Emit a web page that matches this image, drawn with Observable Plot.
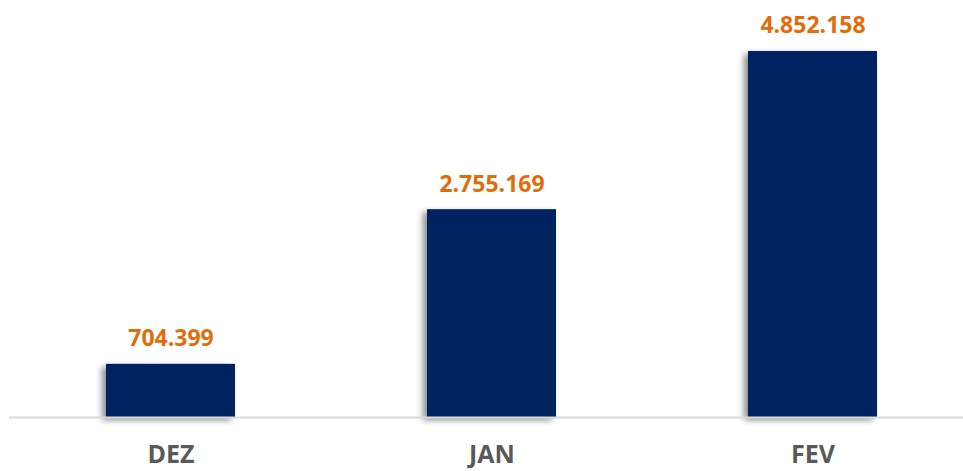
<!DOCTYPE html>
<html>
<head>
<meta charset="utf-8">
<script src="https://cdn.jsdelivr.net/npm/d3@7"></script>
<script src="https://cdn.jsdelivr.net/npm/@observablehq/plot@0.6"></script>
<style>
  html, body { margin: 0; padding: 0; background: #ffffff; }
  #chart { width: 963px; height: 471px; }
</style>
</head>
<body>
<div id="chart"></div>
<script>
const months = ["DEZ", "JAN", "FEV"];
const values = [704399, 2755169, 4852158];
const labels = ["704.399", "2.755.169", "4.852.158"];

const data = months.map((m, i) => ({month: m, value: values[i], label: labels[i]}));

const chart = Plot.plot({
  width: 963,
  height: 471,
  marginTop: 0,
  marginBottom: 54,
  marginLeft: 9,
  marginRight: 0,
  style: {fontFamily: "'Open Sans', sans-serif", background: "#ffffff"},
  x: {domain: months, paddingInner: 0.599, paddingOuter: 0.283, align: 0.527, label: null},
  y: {domain: [0, 5528000], axis: null},
  marks: [
    Plot.barY(data, {x: "month", y: "value", fill: "#002060"}),
    Plot.ruleY([0], {stroke: "#d9d9d9", strokeWidth: 2}),
    Plot.text(data, {x: "month", y: "value", text: "label", lineAnchor: "bottom", dy: -18,
      fill: "#E36C0A", fontSize: 23, fontWeight: "bold"}),
    Plot.axisX({tickSize: 0, tickPadding: 28, fontSize: 25, fontWeight: "bold", color: "#595959", label: null})
  ]
});

const svg = d3.select(chart);
const defs = svg.insert("defs", ":first-child");
const f = defs.append("filter").attr("id", "shadow").attr("x", "-20%").attr("y", "-20%").attr("width", "140%").attr("height", "140%");
f.append("feDropShadow").attr("dx", -4).attr("dy", 3).attr("stdDeviation", 3).attr("flood-color", "#000").attr("flood-opacity", 0.45);
svg.selectAll("g[aria-label='bar'] rect").attr("filter", "url(#shadow)");
svg.select("g[aria-label='x-axis tick label']").attr("fill", "#595959");

document.getElementById("chart").appendChild(chart);
</script>
</body>
</html>
